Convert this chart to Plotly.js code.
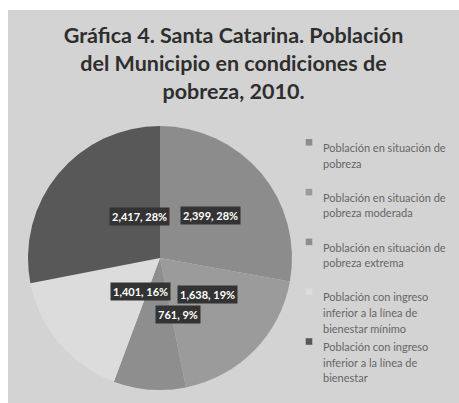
<!DOCTYPE html>
<html>
<head>
<meta charset="utf-8">
<script src="https://cdn.plot.ly/plotly-3.0.1.min.js"></script>
<style>
  html, body { margin: 0; padding: 0; background: #ffffff; }
  #chart { position: absolute; left: 8px; top: 10px; width: 451px; height: 393px; }
  .legendpie { transform: translate(26px, -5px) scale(0.55); }
</style>
</head>
<body>
<div id="chart"></div>
<script>
const categories = [
  "Población en situación de<br>pobreza",
  "Población en situación de<br>pobreza moderada",
  "Población en situación de<br>pobreza extrema",
  "Población con ingreso<br>inferior a la línea de<br>bienestar mínimo",
  "Población con ingreso<br>inferior a la línea de<br>bienestar"
];
const values = [2399, 1638, 761, 1401, 2417];
const percentLabels = ["28%", "19%", "9%", "16%", "28%"];
const sliceColors = ["#8c8c8c", "#9b9b9b", "#8e8e8e", "#dcdcdc", "#585858"];
const titleText = "Gráfica 4. Santa Catarina. Población<br>del Municipio en condiciones de<br>pobreza, 2010.";

const W = 451, H = 393;
const domX = [20 / W, 284 / W];
const domY = [13 / H, 277 / H];

// every legend entry gets three lines so the entries are spread evenly like the original
const legendNames = categories.map(c => {
  const n = c.split("<br>").length;
  return "<span style='font-size:11px'>" + c + "<br> ".repeat(Math.max(0, 3 - n)) + "</span>";
});

const trace = {
  type: "pie",
  labels: legendNames,
  values: values,
  sort: false,
  direction: "clockwise",
  rotation: 0,
  textinfo: "none",
  hoverinfo: "none",
  marker: { colors: sliceColors, line: { width: 0 } },
  domain: { x: domX, y: domY }
};

// label boxes placed from the data through the pie's geometry
const total = values.reduce((a, b) => a + b, 0);
const cxPx = (domX[0] + domX[1]) / 2 * W;
const cyPx = (1 - (domY[0] + domY[1]) / 2) * H;
const rPx = Math.min((domX[1] - domX[0]) * W, (domY[1] - domY[0]) * H) / 2;
let cum = 0;
const annotations = values.map((v, i) => {
  const th = 2 * Math.PI * (cum + v / 2) / total;
  cum += v;
  const rr = 0.5 * rPx;
  const x = (cxPx + rr * Math.sin(th)) / W;
  const y = 1 - (cyPx - rr * Math.cos(th)) / H;
  return {
    x: x, y: y, xref: "paper", yref: "paper",
    text: v.toLocaleString("en-US") + ", " + percentLabels[i],
    showarrow: false,
    bgcolor: "#333333",
    borderpad: 2,
    font: { family: "Lato, 'Open Sans', sans-serif", size: 11, color: "#ffffff", weight: "bold" }
  };
});

const layout = {
  width: W, height: H,
  margin: { l: 0, r: 0, t: 0, b: 0 },
  paper_bgcolor: "#d3d3d3",
  showlegend: true,
  title: {
    text: titleText,
    x: 0.5, xref: "container", xanchor: "center",
    y: 1 - 33 / H, yref: "container", yanchor: "top",
    font: { family: "Lato, 'Open Sans', sans-serif", size: 21.5, color: "#2e2e2e", weight: "bold" }
  },
  legend: {
    x: 275 / W, xanchor: "left",
    y: 1 - 123 / H, yanchor: "top",
    bgcolor: "rgba(0,0,0,0)",
    font: { family: "Lato, 'Open Sans', sans-serif", size: 12, color: "#666666" },
    valign: "top",
    tracegroupgap: 0
  },
  annotations: annotations
};

Plotly.newPlot("chart", [trace], layout, { staticPlot: true });
</script>
</body>
</html>
